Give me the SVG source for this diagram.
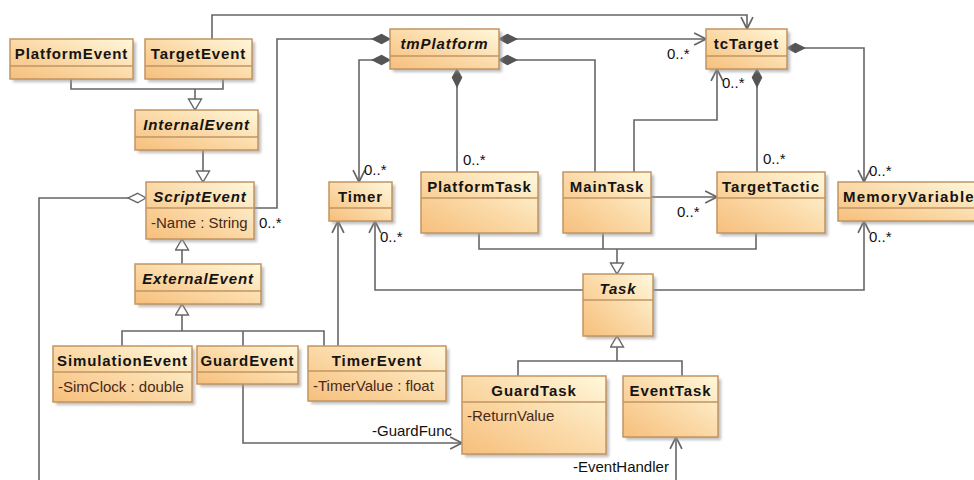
<svg xmlns="http://www.w3.org/2000/svg" width="974" height="480" viewBox="0 0 974 480">
  <defs>
    <linearGradient id="boxFill" x1="0" y1="1" x2="1" y2="0">
      <stop offset="0" stop-color="#f6bf7c"/>
      <stop offset="0.5" stop-color="#fbdaa8"/>
      <stop offset="1" stop-color="#fff8dc"/>
    </linearGradient>
    <filter id="soft" x="-10%" y="-10%" width="130%" height="130%">
      <feGaussianBlur stdDeviation="1.5"/>
    </filter>
    <marker id="open" markerUnits="userSpaceOnUse" markerWidth="14" markerHeight="14" viewBox="-1 -1 13 13" refX="11" refY="5.5" orient="auto">
      <path d="M0,0 L11,5.5 L0,11" fill="none" stroke="#666" stroke-width="1.6"/>
    </marker>
    <marker id="gen" markerUnits="userSpaceOnUse" markerWidth="16" markerHeight="16" viewBox="-1 -1 14 16" refX="11" refY="6.5" orient="auto">
      <path d="M0,0 L11,6.5 L0,13 Z" fill="#fff" stroke="#666" stroke-width="1.4"/>
    </marker>
    <marker id="comp" markerUnits="userSpaceOnUse" markerWidth="20" markerHeight="12" viewBox="-1 -1 19 11" refX="0" refY="4.5" orient="auto">
      <path d="M0,4.5 L8,0 L17,4.5 L8,9 Z" fill="#555" stroke="#555" stroke-width="1"/>
    </marker>
    <marker id="agg" markerUnits="userSpaceOnUse" markerWidth="20" markerHeight="12" viewBox="-1 -1 19 11" refX="0" refY="4.5" orient="auto">
      <path d="M0,4.5 L8,0 L17,4.5 L8,9 Z" fill="#fff" stroke="#666" stroke-width="1.3"/>
    </marker>
  </defs>
  <style>
    .shadow { fill: #9a9a9a; opacity: 0.65; filter: url(#soft); }
    .box { fill: url(#boxFill); stroke: #c29462; stroke-width: 1.5; }
    .div { stroke: #c29462; stroke-width: 1.3; }
    .name { font-family: "Liberation Sans", Arial, sans-serif; font-size: 15px; font-weight: bold; letter-spacing: 0.9px; fill: #141414; text-anchor: middle; }
    .abstract { font-style: italic; }
    .attr { font-family: "Liberation Sans", Arial, sans-serif; font-size: 15px; fill: #47291a; }
    .mult { font-family: "Liberation Sans", Arial, sans-serif; font-size: 15px; fill: #111; }
    .wire { fill: none; stroke: #666; stroke-width: 1.6; }
  </style>

  <rect width="974" height="480" fill="#fff"/>

  <!-- connectors -->
  <g id="connectors">
    <!-- generalizations -->
    <path class="wire" d="M71,79 V89 H223 V79"/>
    <path class="wire" d="M195,89 V110" marker-end="url(#gen)"/>
    <path class="wire" d="M203,150 V182" marker-end="url(#gen)"/>
    <path class="wire" d="M182,264 V239" marker-end="url(#gen)"/>
    <path class="wire" d="M122,346 V331 H324 V346 M243,331 V346"/>
    <path class="wire" d="M182,331 V304" marker-end="url(#gen)"/>
    <path class="wire" d="M479,233 V249 H756 V233 M603,249 V233"/>
    <path class="wire" d="M617,249 V274" marker-end="url(#gen)"/>
    <path class="wire" d="M518,376 V361 H682 V376"/>
    <path class="wire" d="M617,361 V336" marker-end="url(#gen)"/>

    <!-- associations -->
    <path class="wire" d="M212,39 V15 H747 V29" marker-end="url(#open)"/>
    <path class="wire" d="M390,39 H277 V208 H254" marker-start="url(#comp)"/>
    <path class="wire" d="M390,60 H359 V182" marker-start="url(#comp)" marker-end="url(#open)"/>
    <path class="wire" d="M457,69 V172" marker-start="url(#comp)"/>
    <path class="wire" d="M499,39 H706" marker-start="url(#comp)" marker-end="url(#open)"/>
    <path class="wire" d="M499,60 H595 V172" marker-start="url(#comp)"/>
    <path class="wire" d="M634,172 V120 H717 V69" marker-end="url(#open)"/>
    <path class="wire" d="M757,69 V172" marker-start="url(#comp)"/>
    <path class="wire" d="M787,48 H864 V182" marker-start="url(#comp)" marker-end="url(#open)"/>
    <path class="wire" d="M651,197 H717" marker-end="url(#open)"/>
    <path class="wire" d="M583,290 H375 V221" marker-end="url(#open)"/>
    <path class="wire" d="M652,290 H864 V221" marker-end="url(#open)"/>
    <path class="wire" d="M338,346 V221" marker-end="url(#open)"/>
    <path class="wire" d="M146,198 H39 V480" marker-start="url(#agg)"/>
    <path class="wire" d="M243,384 V443 H462" marker-end="url(#open)"/>
    <path class="wire" d="M676,480 V437" marker-end="url(#open)"/>

    <!-- multiplicities and role names -->
    <text class="mult" x="259" y="228">0..*</text>
    <text class="mult" x="364" y="175">0..*</text>
    <text class="mult" x="463" y="165">0..*</text>
    <text class="mult" x="667" y="59">0..*</text>
    <text class="mult" x="722" y="88">0..*</text>
    <text class="mult" x="763" y="164">0..*</text>
    <text class="mult" x="869" y="176">0..*</text>
    <text class="mult" x="677" y="217">0..*</text>
    <text class="mult" x="869" y="242">0..*</text>
    <text class="mult" x="380" y="242">0..*</text>
    <text class="mult" x="372" y="436">-GuardFunc</text>
    <text class="mult" x="573" y="472">-EventHandler</text>
  </g>

  <!-- classes -->
  <g id="platform-event">
    <rect class="shadow" x="13" y="42" width="123" height="40"/>
    <rect class="box" x="10" y="39" width="123" height="40"/>
    <line class="div" x1="10" y1="66" x2="133" y2="66"/>
    <text class="name" x="71.5" y="59">PlatformEvent</text>
  </g>
  <g id="target-event">
    <rect class="shadow" x="148" y="42" width="107" height="40"/>
    <rect class="box" x="145" y="39" width="107" height="40"/>
    <line class="div" x1="145" y1="66" x2="252" y2="66"/>
    <text class="name" x="198.5" y="59">TargetEvent</text>
  </g>
  <g id="internal-event">
    <rect class="shadow" x="138" y="113" width="123" height="40"/>
    <rect class="box" x="135" y="110" width="123" height="40"/>
    <line class="div" x1="135" y1="137" x2="258" y2="137"/>
    <text class="name abstract" x="196.5" y="130">InternalEvent</text>
  </g>
  <g id="script-event">
    <rect class="shadow" x="149" y="185" width="108" height="57"/>
    <rect class="box" x="146" y="182" width="108" height="57"/>
    <line class="div" x1="146" y1="208" x2="254" y2="208"/>
    <text class="name abstract" x="200" y="202">ScriptEvent</text>
    <text class="attr" x="151" y="228">-Name : String</text>
  </g>
  <g id="external-event">
    <rect class="shadow" x="138" y="267" width="126" height="40"/>
    <rect class="box" x="135" y="264" width="126" height="40"/>
    <line class="div" x1="135" y1="291" x2="261" y2="291"/>
    <text class="name abstract" x="198" y="284">ExternalEvent</text>
  </g>
  <g id="simulation-event">
    <rect class="shadow" x="56" y="349" width="139" height="56"/>
    <rect class="box" x="53" y="346" width="139" height="56"/>
    <line class="div" x1="53" y1="372" x2="192" y2="372"/>
    <text class="name" x="122.5" y="366">SimulationEvent</text>
    <text class="attr" x="58" y="392">-SimClock : double</text>
  </g>
  <g id="guard-event">
    <rect class="shadow" x="200" y="349" width="101" height="38"/>
    <rect class="box" x="197" y="346" width="101" height="38"/>
    <line class="div" x1="197" y1="372" x2="298" y2="372"/>
    <text class="name" x="247.5" y="366">GuardEvent</text>
  </g>
  <g id="timer-event">
    <rect class="shadow" x="311" y="349" width="138" height="55"/>
    <rect class="box" x="308" y="346" width="138" height="55"/>
    <line class="div" x1="308" y1="371" x2="446" y2="371"/>
    <text class="name" x="377" y="366">TimerEvent</text>
    <text class="attr" x="313" y="391">-TimerValue : float</text>
  </g>
  <g id="tm-platform">
    <rect class="shadow" x="393" y="32" width="109" height="40"/>
    <rect class="box" x="390" y="29" width="109" height="40"/>
    <line class="div" x1="390" y1="56" x2="499" y2="56"/>
    <text class="name abstract" x="444.5" y="49">tmPlatform</text>
  </g>
  <g id="tc-target">
    <rect class="shadow" x="709" y="32" width="81" height="40"/>
    <rect class="box" x="706" y="29" width="81" height="40"/>
    <line class="div" x1="706" y1="56" x2="787" y2="56"/>
    <text class="name" x="746.5" y="49">tcTarget</text>
  </g>
  <g id="timer">
    <rect class="shadow" x="332" y="185" width="63" height="39"/>
    <rect class="box" x="329" y="182" width="63" height="39"/>
    <line class="div" x1="329" y1="208" x2="392" y2="208"/>
    <text class="name" x="360.5" y="202">Timer</text>
  </g>
  <g id="platform-task">
    <rect class="shadow" x="424" y="175" width="117" height="61"/>
    <rect class="box" x="421" y="172" width="117" height="61"/>
    <line class="div" x1="421" y1="198" x2="538" y2="198"/>
    <text class="name" x="479.5" y="192">PlatformTask</text>
  </g>
  <g id="main-task">
    <rect class="shadow" x="566" y="175" width="88" height="61"/>
    <rect class="box" x="563" y="172" width="88" height="61"/>
    <line class="div" x1="563" y1="198" x2="651" y2="198"/>
    <text class="name" x="607" y="192">MainTask</text>
  </g>
  <g id="target-tactic">
    <rect class="shadow" x="720" y="175" width="108" height="61"/>
    <rect class="box" x="717" y="172" width="108" height="61"/>
    <line class="div" x1="717" y1="198" x2="825" y2="198"/>
    <text class="name" x="771" y="192">TargetTactic</text>
  </g>
  <g id="memory-variable">
    <rect class="shadow" x="841" y="185" width="142" height="39"/>
    <rect class="box" x="838" y="182" width="142" height="39"/>
    <line class="div" x1="838" y1="208" x2="980" y2="208"/>
    <text class="name" x="843" y="202" style="text-anchor:start; letter-spacing:1.2px">MemoryVariable</text>
  </g>
  <g id="task">
    <rect class="shadow" x="586" y="277" width="70" height="62"/>
    <rect class="box" x="583" y="274" width="70" height="62"/>
    <line class="div" x1="583" y1="300" x2="653" y2="300"/>
    <text class="name abstract" x="618" y="294">Task</text>
  </g>
  <g id="guard-task">
    <rect class="shadow" x="465" y="379" width="144" height="78"/>
    <rect class="box" x="462" y="376" width="144" height="78"/>
    <line class="div" x1="462" y1="402" x2="606" y2="402"/>
    <text class="name" x="534" y="396">GuardTask</text>
    <text class="attr" x="467" y="421">-ReturnValue</text>
  </g>
  <g id="event-task">
    <rect class="shadow" x="626" y="379" width="95" height="61"/>
    <rect class="box" x="623" y="376" width="95" height="61"/>
    <line class="div" x1="623" y1="402" x2="718" y2="402"/>
    <text class="name" x="670.5" y="396">EventTask</text>
  </g>
</svg>
